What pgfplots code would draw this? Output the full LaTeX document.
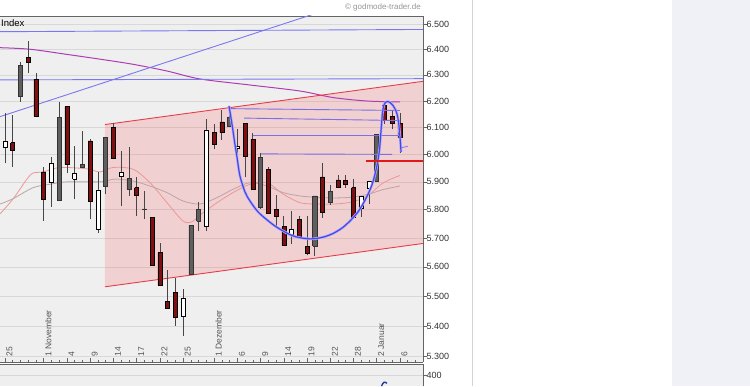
\documentclass[border=0pt]{standalone}
\usepackage{pgfplots}
\pgfplotsset{compat=1.18}
\usepackage{pgfplotstable}
\usepackage{fontspec}
\setmainfont{Liberation Sans}
\definecolor{bggray}{RGB}{239,239,239}
\definecolor{gridgray}{RGB}{216,216,216}
\definecolor{axisgray}{RGB}{100,100,100}
\definecolor{sidepanel}{RGB}{239,241,246}
\definecolor{sepgray}{RGB}{212,212,212}
\definecolor{chanfill}{RGB}{255,60,70}
\definecolor{chanline}{RGB}{232,60,72}
\definecolor{purpma}{RGB}{175,60,180}
\definecolor{blueln}{RGB}{120,120,240}
\definecolor{resln}{RGB}{125,110,225}
\definecolor{arcblue}{RGB}{70,70,235}
\definecolor{archalo}{RGB}{175,175,250}
\definecolor{redma}{RGB}{238,150,150}
\definecolor{grayma}{RGB}{185,165,165}
\definecolor{candred}{RGB}{130,15,15}
\definecolor{candgray}{RGB}{95,95,95}
\definecolor{wickgray}{RGB}{70,70,70}
\definecolor{labgray}{RGB}{85,85,85}
\definecolor{labdark}{RGB}{50,50,50}
\definecolor{copygray}{RGB}{150,150,150}
\definecolor{hline}{RGB}{225,25,25}
\definecolor{lowblue}{RGB}{40,60,160}

\pgfplotsset{
  wick/.style={draw=wickgray, line width=0.8pt, mark=none, forget plot},
  body w/.style={fill=white, draw=black, line width=0.6pt, mark=none, forget plot},
  body r/.style={fill=candred, draw=black, line width=0.6pt, mark=none, forget plot},
  body g/.style={fill=candgray, draw=black!80, line width=0.6pt, mark=none, forget plot},
}

\pgfplotstableread{
i o h l c t
0 6028 6156 5970 6050 w
1 6043 6147 5955 6017 r
2 6219 6348 6196 6337 g
3 6367 6433 6306 6348 r
4 6283 6306 6143 6143 r
5 5936 5952 5760 5837 r
6 5900 5992 5811 5966 w
7 5835 6196 5835 6137 g
8 6178 6179 5931 5964 r
9 5909 6031 5837 5931 w
10 5952 6087 5950 5964 g
11 6050 6058 5766 5831 r
12 5731 5936 5719 5871 w
13 5883 6062 5855 6062 g
14 6099 6116 5985 5985 r
15 5921 6013 5813 5936 w
16 5873 6028 5849 5913 g
17 5879 5919 5778 5852 r
18 5800 5867 5768 5803 g
19 5772 5772 5605 5606 r
20 5649 5682 5537 5537 r
21 5484 5589 5458 5458 r
22 5514 5563 5401 5428 r
23 5434 5526 5368 5492 w
24 5575 5745 5575 5745 g
25 5760 5827 5725 5801 g
26 5740 6133 5725 6091 w
27 6083 6112 6019 6036 r
28 6121 6166 6054 6081 r
29 6140 6181 6103 6106 g
30 6021 6096 5988 6029 w
31 6116 6116 5919 5994 r
32 6056 6081 5873 5873 r
33 5807 6007 5801 5988 g
34 5946 5952 5787 5787 r
35 5801 5852 5742 5775 r
36 5740 5778 5675 5675 r
37 5713 5795 5678 5731 w
38 5766 5778 5698 5701 r
39 5672 5778 5640 5647 r
40 5672 5849 5638 5849 g
41 5918 5970 5772 5789 r
42 5825 5890 5816 5865 g
43 5907 5924 5879 5879 r
44 5906 5924 5879 5891 r
45 5879 5909 5772 5772 r
46 5804 5849 5775 5849 w
47 5875 5901 5819 5901 w
48 5903 6075 5903 6075 g
49 6184 6196 6112 6128 r
50 6143 6162 6093 6116 r
51 6116 6156 6007 6062 r
}\candles

\begin{document}
\begin{tikzpicture}[x=1pt,y=1pt]
\useasboundingbox (0,0) rectangle (750,386);
\fill[white] (0,0) rectangle (750,386);
\fill[sidepanel] (672,0) rectangle (750,386);
\draw[sepgray, line width=0.8pt] (472,0) -- (472,386);

\begin{axis}[
  at={(0pt,24pt)}, anchor=south west,
  scale only axis, width=423pt, height=346pt,
  xmin=-0.6456, xmax=53.97,
  y coord trafo/.code={\pgfmathparse{ln(#1)}},
  y coord inv trafo/.code={\pgfmathparse{exp(#1)}},
  ymin=5282.6, ymax=6532,
  separate axis lines, axis x line*=box, axis y line*=right,
  axis line style={draw=axisgray, line width=0.8pt},
  axis background/.style={fill=bggray},
  ytick={5300,5400,5500,5600,5700,5800,5900,6000,6100,6200,6300,6400,6500},
  yticklabels={5.300,5.400,5.500,5.600,5.700,5.800,5.900,6.000,6.100,6.200,6.300,6.400,6.500},
  ytick pos=right, yticklabel pos=right,
  ymajorgrids, major grid style={draw=gridgray, line width=0.6pt},
  xtick={0,5,8,11,14,17,20,23,27,30,33,36,39,42,45,48,51},
  xticklabels={25,1 November,4,9,14,17,22,25,1 Dezember,6,9,14,19,22,28,2 Januar,6},
  minor xtick={0,...,53},
  xtick pos=bottom,
  tick align=inside,
  major tick length=4pt, minor tick length=2pt,
  tick style={draw=axisgray, line width=0.6pt},
  every y tick/.append style={xshift=4pt},
  xticklabel style={font=\fontsize{8.5}{9}\selectfont, text=labgray, xshift=4.5pt, yshift=2pt, rotate=90, anchor=west},
  yticklabel style={font=\fontsize{9}{10}\selectfont, text=labdark},
]
% channel
\addplot[draw=none, fill=chanfill, fill opacity=0.17, forget plot] coordinates {(12.91,6111) (53.97,6275) (53.97,5681) (12.91,5532)};
% moving averages
\addplot[redma, line width=0.8pt, smooth, mark=none] coordinates {(-0.65,5785) (1.03,5838) (2.84,5910) (3.62,5932) (4.91,5936) (7.10,5952) (10.59,5947) (12.27,5936) (13.94,5952) (16.53,5946) (18.72,5897) (20.92,5825) (22.98,5760) (24.14,5757) (25.18,5781) (27.37,5825) (29.44,5861) (31.63,5891) (33.83,5897) (35.89,5856) (38.09,5825) (40.28,5820) (42.35,5820) (44.54,5826) (46.74,5848) (48.81,5896) (51.00,5923)};
\addplot[grayma, line width=0.8pt, smooth, mark=none] coordinates {(-0.65,5820) (1.03,5839) (3.62,5879) (5.81,5891) (8.01,5900) (12.27,5900) (13.56,5907) (14.46,5910) (16.53,5903) (18.72,5885) (20.92,5861) (22.98,5831) (25.18,5820) (27.37,5843) (29.44,5873) (31.63,5897) (33.83,5885) (35.89,5861) (38.09,5849) (40.28,5844) (42.35,5842) (44.54,5844) (46.74,5854) (48.81,5872) (51.00,5885)};
\addplot[purpma, line width=1pt, smooth, mark=none] coordinates {(-0.65,6406) (3.23,6400) (7.97,6380) (12.27,6361) (16.53,6341) (20.92,6315) (25.18,6284) (31.63,6261) (38.09,6238) (42.35,6213) (46.74,6200) (51.0,6196)};
% blue trend lines
\addplot[blueln, line width=0.9pt, mark=none] coordinates {(-0.65,6469) (53.97,6478)};
\addplot[blueln, line width=0.9pt, mark=none] coordinates {(-0.65,6280.5) (53.97,6285.5)};
\addplot[blueln, line width=0.9pt, mark=none] coordinates {(-0.65,6140.6) (41.96,6560.9)};
% channel lines
\addplot[chanline, line width=0.9pt, mark=none] coordinates {(12.91,6111) (53.97,6275)};
\addplot[chanline, line width=0.9pt, mark=none] coordinates {(12.91,5532) (53.97,5681)};
% candles
\pgfplotsinvokeforeach{0,...,51}{
  \pgfplotstablegetelem{#1}{o}\of\candles \edef\cO{\pgfplotsretval}
  \pgfplotstablegetelem{#1}{h}\of\candles \edef\cH{\pgfplotsretval}
  \pgfplotstablegetelem{#1}{l}\of\candles \edef\cL{\pgfplotsretval}
  \pgfplotstablegetelem{#1}{c}\of\candles \edef\cC{\pgfplotsretval}
  \pgfplotstablegetelem{#1}{t}\of\candles \edef\cT{\pgfplotsretval}
  \pgfmathsetmacro\xa{#1-0.26}
  \pgfmathsetmacro\xb{#1+0.26}
  \edef\tmp{%
    \noexpand\addplot[wick] coordinates {(#1,\cL) (#1,\cH)};
    \noexpand\addplot[body \cT] coordinates {(\xa,\cO) (\xb,\cO) (\xb,\cC) (\xa,\cC) (\xa,\cO)};
  }\tmp
}
% resistance lines
\addplot[resln, line width=0.9pt, mark=none] coordinates {(28.92,6171) (51.0,6164)};
\addplot[resln, line width=0.9pt, mark=none] coordinates {(30.86,6135) (51.0,6126)};
\addplot[resln, line width=0.9pt, mark=none] coordinates {(32.02,6072) (51.0,6072)};
\addplot[resln, line width=0.9pt, mark=none] coordinates {(33.05,6002) (49.97,6000)};
% cup arc
\addplot[archalo, line width=2.6pt, smooth, mark=none] coordinates {(28.92,6181) (29.18,6136) (29.44,6087) (29.70,6035) (29.95,5991) (30.34,5921) (30.99,5863) (31.63,5831) (32.67,5792) (33.83,5764) (34.86,5742) (35.89,5725) (37.06,5709) (38.09,5701) (39.38,5697) (40.28,5699) (41.32,5705) (42.35,5716) (43.51,5735) (44.54,5760) (45.58,5792) (46.35,5827) (47.0,5863) (47.51,5900) (47.90,5943) (48.16,5980) (48.35,6017) (48.48,6061) (48.61,6110) (48.74,6155) (48.93,6185) (49.19,6196) (49.45,6198) (49.71,6194) (50.10,6183) (50.36,6170) (50.61,6151) (50.81,6121) (50.94,6083) (51.07,6039) (51.13,6009)};
\addplot[arcblue, line width=1.2pt, smooth, mark=none] coordinates {(28.92,6181) (29.18,6136) (29.44,6087) (29.70,6035) (29.95,5991) (30.34,5921) (30.99,5863) (31.63,5831) (32.67,5792) (33.83,5764) (34.86,5742) (35.89,5725) (37.06,5709) (38.09,5701) (39.38,5697) (40.28,5699) (41.32,5705) (42.35,5716) (43.51,5735) (44.54,5760) (45.58,5792) (46.35,5827) (47.0,5863) (47.51,5900) (47.90,5943) (48.16,5980) (48.35,6017) (48.48,6061) (48.61,6110) (48.74,6155) (48.93,6185) (49.19,6196) (49.45,6198) (49.71,6194) (50.10,6183) (50.36,6170) (50.61,6151) (50.81,6121) (50.94,6083) (51.07,6039) (51.13,6009)};
\addplot[arcblue!70, line width=0.8pt, mark=none] coordinates {(51.13,6024) (51.65,6028) (52.03,6030)};
% red horizontal
\addplot[hline, line width=1.6pt, mark=none] coordinates {(46.6,5976) (53.97,5976)};
\end{axis}

\begin{axis}[
  at={(0pt,0pt)}, anchor=south west,
  scale only axis, width=423pt, height=22pt,
  xmin=-0.6456, xmax=53.97, ymin=345, ymax=455,
  separate axis lines, axis x line*=top, axis y line*=right,
  axis line style={draw=axisgray, line width=0.8pt},
  axis background/.style={fill=bggray},
  xtick=\empty, ytick={400}, yticklabels={400},
  ytick pos=right, yticklabel pos=right,
  ymajorgrids, major grid style={draw=gridgray, line width=0.6pt},
  tick align=inside, major tick length=4pt,
  tick style={draw=axisgray, line width=0.6pt},
  every y tick/.append style={xshift=4pt},
  yticklabel style={font=\fontsize{9}{10}\selectfont, text=labdark},
]
\addplot[lowblue, line width=1.4pt, smooth, mark=none] coordinates {(48.61,345) (48.8,358) (48.95,364) (49.15,363) (49.32,358)};
\end{axis}

\node[anchor=west, font=\fontsize{9.5}{10}\selectfont, inner sep=0pt] at (1,363) {Index};
\node[anchor=east, font=\fontsize{8}{9}\selectfont, text=copygray, inner sep=0pt] at (421,379) {© godmode-trader.de};
\end{tikzpicture}
\end{document}
